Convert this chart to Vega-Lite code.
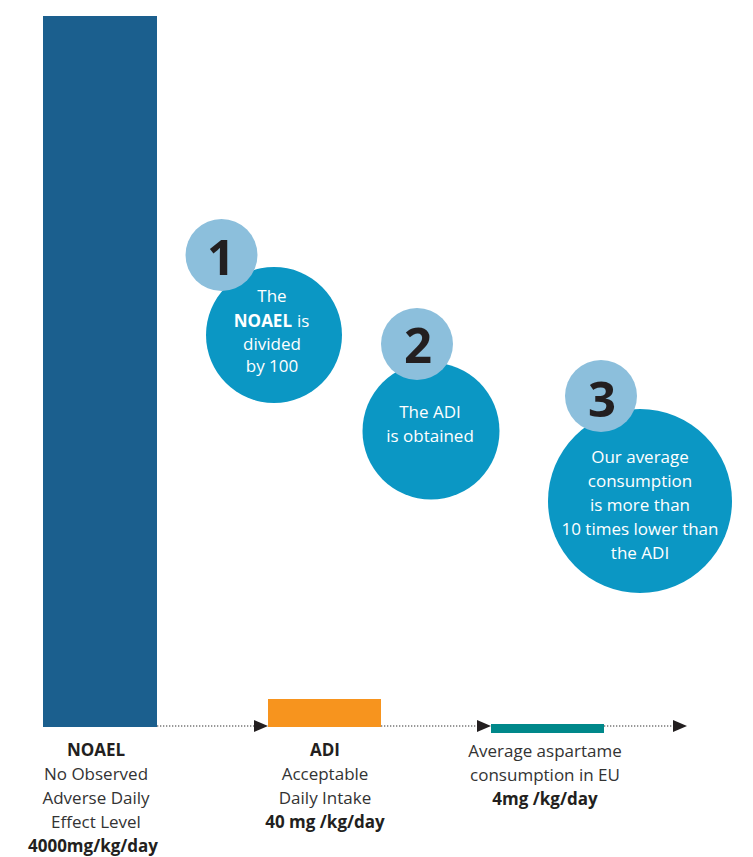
{
  "$schema": "https://vega.github.io/schema/vega-lite/v6.json",
  "width": 753,
  "height": 857,
  "autosize": {"type": "fit", "contains": "padding"},
  "padding": 0,
  "background": "white",
  "config": {"view": {"stroke": null}, "text": {"font": "Open Sans"}},
  "datasets": {
    "bars": [
      {"item": "NOAEL", "x0": 43, "x1": 157, "y0": 0, "y1": 711},
      {"item": "ADI", "x0": 268, "x1": 381, "y0": 0, "y1": 28},
      {"item": "Average EU", "x0": 491, "x1": 604, "y0": -6, "y1": 3}
    ],
    "segments": [
      {"x0": 157, "x1": 255, "level": 1},
      {"x0": 381, "x1": 478, "level": 1},
      {"x0": 604, "x1": 673, "level": 1}
    ],
    "arrows": [
      {"x": 261, "level": 1},
      {"x": 484, "level": 1},
      {"x": 680, "level": 1}
    ],
    "bigCircles": [
      {"step": "1", "x": 274, "y": 392, "r": 68},
      {"step": "2", "x": 431, "y": 296, "r": 68.5},
      {"step": "3", "x": 640, "y": 226, "r": 92}
    ],
    "smallCircles": [
      {"step": "1", "x": 221.5, "y": 472, "r": 36, "ty": 452, "tx": 221},
      {"step": "2", "x": 417, "y": 383, "r": 36, "ty": 364, "tx": 418},
      {"step": "3", "x": 601, "y": 331, "r": 36, "ty": 310, "tx": 602}
    ],
    "circleText": [
      {"x": 272, "y": 425, "t": "The"},
      {"x": 272, "y": 377, "t": "divided"},
      {"x": 272, "y": 355, "t": "by 100"},
      {"x": 430, "y": 309, "t": "The ADI"},
      {"x": 430, "y": 285, "t": "is obtained"},
      {"x": 640, "y": 264, "t": "Our average"},
      {"x": 640, "y": 240, "t": "consumption"},
      {"x": 640, "y": 216, "t": "is more than"},
      {"x": 640, "y": 192, "t": "10 times lower than"},
      {"x": 640, "y": 168, "t": "the ADI"}
    ],
    "circleLeft": [
      {"x": 297, "y": 400, "t": "is"}
    ],
    "circleBold": [
      {"x": 292, "y": 400, "t": "NOAEL"}
    ],
    "labels": [
      {"x": 96, "y": -53, "t": "No Observed"},
      {"x": 96, "y": -77, "t": "Adverse Daily"},
      {"x": 96, "y": -101, "t": "Effect Level"},
      {"x": 325, "y": -53, "t": "Acceptable"},
      {"x": 325, "y": -77, "t": "Daily Intake"},
      {"x": 545, "y": -30, "t": "Average aspartame"},
      {"x": 545, "y": -54, "t": "consumption in EU"}
    ],
    "labelsBold": [
      {"x": 96, "y": -29, "t": "NOAEL"},
      {"x": 93, "y": -125, "t": "4000mg/kg/day"},
      {"x": 325, "y": -29, "t": "ADI"},
      {"x": 325, "y": -101, "t": "40 mg /kg/day"},
      {"x": 545, "y": -78, "t": "4mg /kg/day"}
    ]
  },
  "layer": [
    {
      "data": {"name": "bars"},
      "mark": {"type": "rect"},
      "encoding": {
        "x": {"field": "x0", "type": "quantitative", "scale": {"domain": [0, 753]}, "axis": null},
        "x2": {"field": "x1"},
        "y": {"field": "y0", "type": "quantitative", "scale": {"domain": [-130, 727]}, "axis": null},
        "y2": {"field": "y1"},
        "color": {"field": "item", "type": "nominal", "legend": null,
          "scale": {"domain": ["NOAEL", "ADI", "Average EU"], "range": ["#1b5f8e", "#f7941e", "#00888a"]}}
      }
    },
    {
      "data": {"name": "segments"},
      "mark": {"type": "rule", "strokeDash": [1.3, 1.7], "strokeWidth": 1.2, "color": "#333333"},
      "encoding": {
        "x": {"field": "x0", "type": "quantitative", "scale": {"domain": [0, 753]}, "axis": null},
        "x2": {"field": "x1"},
        "y": {"field": "level", "type": "quantitative", "scale": {"domain": [-130, 727]}, "axis": null}
      }
    },
    {
      "data": {"name": "arrows"},
      "mark": {"type": "point", "shape": "M-1,-0.85L1,0L-1,0.85Z", "size": 196, "filled": true, "opacity": 1, "color": "#231f20"},
      "encoding": {
        "x": {"field": "x", "type": "quantitative", "scale": {"domain": [0, 753]}, "axis": null},
        "y": {"field": "level", "type": "quantitative", "scale": {"domain": [-130, 727]}, "axis": null}
      }
    },
    {
      "data": {"name": "bigCircles"},
      "mark": {"type": "circle", "opacity": 1, "color": "#0b97c4"},
      "encoding": {
        "x": {"field": "x", "type": "quantitative", "scale": {"domain": [0, 753]}, "axis": null},
        "y": {"field": "y", "type": "quantitative", "scale": {"domain": [-130, 727]}, "axis": null},
        "size": {"field": "r", "type": "quantitative", "legend": null,
          "scale": {"type": "pow", "exponent": 2, "domain": [0, 100], "range": [0, 40000]}}
      }
    },
    {
      "data": {"name": "smallCircles"},
      "mark": {"type": "circle", "opacity": 1, "color": "#8cbfdc"},
      "encoding": {
        "x": {"field": "x", "type": "quantitative", "scale": {"domain": [0, 753]}, "axis": null},
        "y": {"field": "y", "type": "quantitative", "scale": {"domain": [-130, 727]}, "axis": null},
        "size": {"field": "r", "type": "quantitative", "legend": null,
          "scale": {"type": "pow", "exponent": 2, "domain": [0, 100], "range": [0, 40000]}}
      }
    },
    {
      "data": {"name": "smallCircles"},
      "mark": {"type": "text", "fontSize": 49, "fontWeight": "bold", "color": "#231f20", "baseline": "alphabetic", "align": "center"},
      "encoding": {
        "x": {"field": "tx", "type": "quantitative", "scale": {"domain": [0, 753]}, "axis": null},
        "y": {"field": "ty", "type": "quantitative", "scale": {"domain": [-130, 727]}, "axis": null},
        "text": {"field": "step"}
      }
    },
    {
      "data": {"name": "circleText"},
      "mark": {"type": "text", "fontSize": 17, "color": "white", "baseline": "alphabetic", "align": "center"},
      "encoding": {
        "x": {"field": "x", "type": "quantitative", "scale": {"domain": [0, 753]}, "axis": null},
        "y": {"field": "y", "type": "quantitative", "scale": {"domain": [-130, 727]}, "axis": null},
        "text": {"field": "t"}
      }
    },
    {
      "data": {"name": "circleLeft"},
      "mark": {"type": "text", "fontSize": 17, "color": "white", "baseline": "alphabetic", "align": "left"},
      "encoding": {
        "x": {"field": "x", "type": "quantitative", "scale": {"domain": [0, 753]}, "axis": null},
        "y": {"field": "y", "type": "quantitative", "scale": {"domain": [-130, 727]}, "axis": null},
        "text": {"field": "t"}
      }
    },
    {
      "data": {"name": "circleBold"},
      "mark": {"type": "text", "fontSize": 17, "fontWeight": "bold", "color": "white", "baseline": "alphabetic", "align": "right"},
      "encoding": {
        "x": {"field": "x", "type": "quantitative", "scale": {"domain": [0, 753]}, "axis": null},
        "y": {"field": "y", "type": "quantitative", "scale": {"domain": [-130, 727]}, "axis": null},
        "text": {"field": "t"}
      }
    },
    {
      "data": {"name": "labels"},
      "mark": {"type": "text", "fontSize": 17, "color": "#333333", "baseline": "alphabetic", "align": "center"},
      "encoding": {
        "x": {"field": "x", "type": "quantitative", "scale": {"domain": [0, 753]}, "axis": null},
        "y": {"field": "y", "type": "quantitative", "scale": {"domain": [-130, 727]}, "axis": null},
        "text": {"field": "t"}
      }
    },
    {
      "data": {"name": "labelsBold"},
      "mark": {"type": "text", "fontSize": 17, "fontWeight": "bold", "color": "#231f20", "baseline": "alphabetic", "align": "center"},
      "encoding": {
        "x": {"field": "x", "type": "quantitative", "scale": {"domain": [0, 753]}, "axis": null},
        "y": {"field": "y", "type": "quantitative", "scale": {"domain": [-130, 727]}, "axis": null},
        "text": {"field": "t"}
      }
    }
  ]
}
